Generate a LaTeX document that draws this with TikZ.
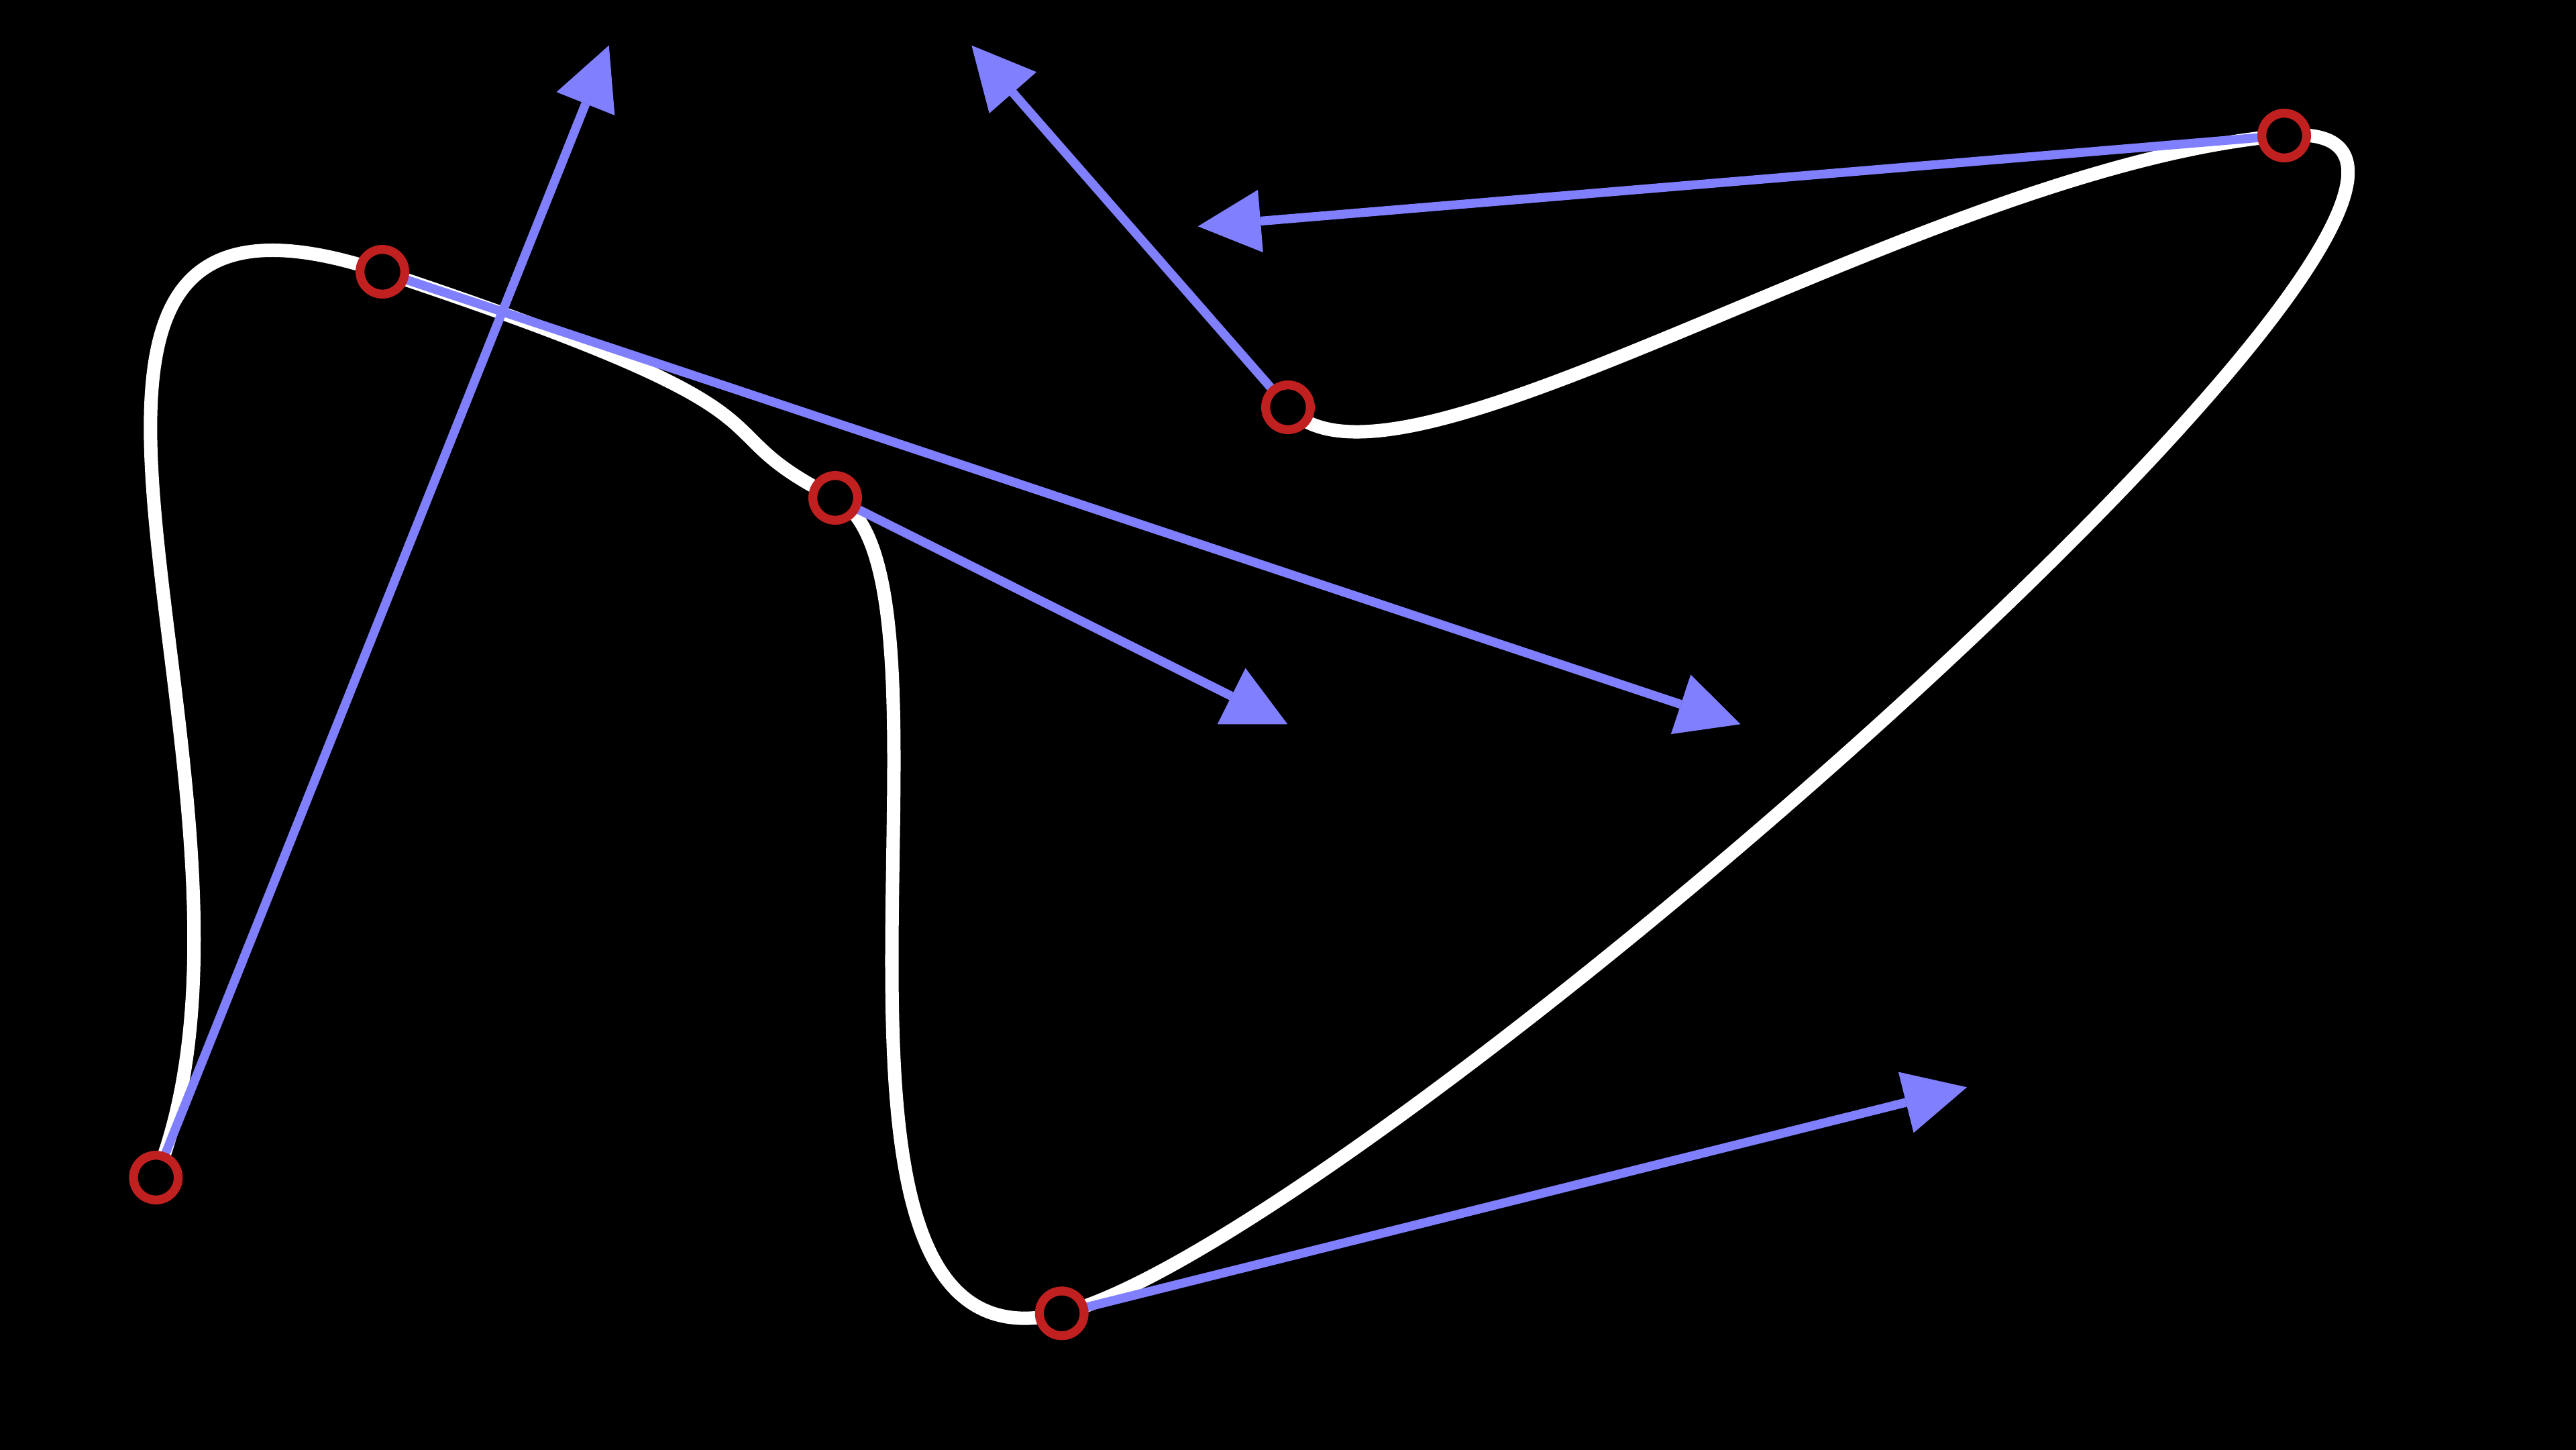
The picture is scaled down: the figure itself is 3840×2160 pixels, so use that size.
\documentclass[tikz,border=0pt]{standalone}
\usetikzlibrary{arrows.meta,calc}
\definecolor{tanblue}{RGB}{128,128,255}
\definecolor{ptred}{RGB}{192,32,32}
\tikzset{
  curveline/.style={draw=white,line width=0.2cm,line cap=round,line join=round},
  tanarrow/.style={draw=tanblue,line width=0.133cm,
    -{Triangle[length=0.935cm,width=0.935cm,line width=0pt,fill=tanblue]}},
  ptmark/.style={circle,draw=ptred,fill=black,line width=0.133cm,
    minimum size=0.666cm,inner sep=0pt}
}
\begin{document}
\begin{tikzpicture}[x=0.01cm,y=-0.01cm]
\useasboundingbox (0,0) rectangle (3840,2160);
\fill[black] (-20,-20) rectangle (3860,2180);
% points
\coordinate (p0) at (232.3,1755);
\coordinate (p1) at (570,405);
\coordinate (p2) at (1245,742);
\coordinate (p3) at (1582.7,1957.3);
\coordinate (p4) at (3405,202);
\coordinate (p5) at (1920,607);
% tangent tips
\coordinate (t0) at (907.7,67.7);
\coordinate (t1) at (2594.3,1079.3);
\coordinate (t2) at (1919.3,1079.3);
\coordinate (t3) at (2932,1620.3);
\coordinate (t4) at (1785.7,337.3);
\coordinate (t5) at (1448.3,67.7);
% Hermite curve
\draw[curveline] (p0)
  .. controls ($(p0)!0.33333!(t0)$) and ($(p1)!-0.33333!(t1)$) .. (p1)
  .. controls ($(p1)!0.33333!(t1)$) and ($(p2)!-0.33333!(t2)$) .. (p2)
  .. controls ($(p2)!0.33333!(t2)$) and ($(p3)!-0.33333!(t3)$) .. (p3)
  .. controls ($(p3)!0.33333!(t3)$) and ($(p4)!-0.33333!(t4)$) .. (p4)
  .. controls ($(p4)!0.33333!(t4)$) and ($(p5)!-0.33333!(t5)$) .. (p5);
% tangents
\foreach \i in {0,...,5} {
  \draw[tanarrow] (p\i) -- (t\i);
}
% point marks
\foreach \i in {0,...,5} {
  \node[ptmark] (n\i) at (p\i) {};
}
\end{tikzpicture}
\end{document}
